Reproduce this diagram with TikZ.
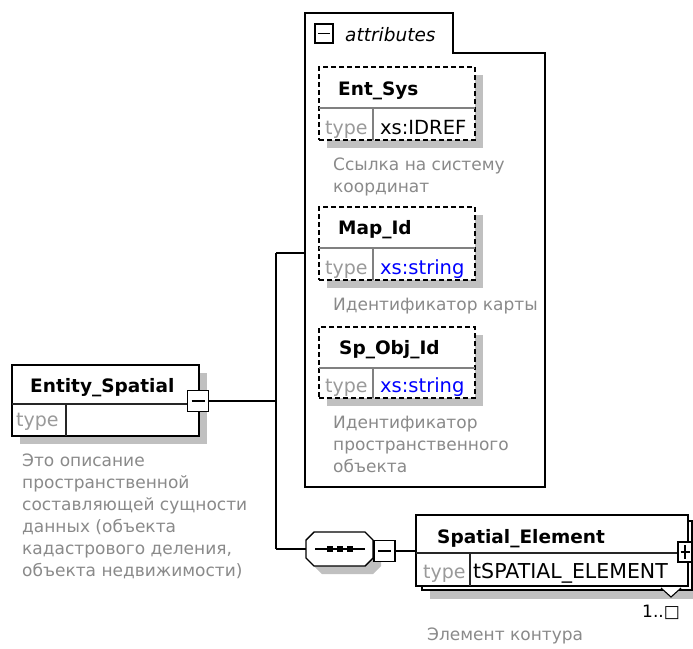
\documentclass[tikz,border=0pt]{standalone}
\usepackage{fontspec}
\setmainfont{DejaVu Sans}
\definecolor{shadowc}{HTML}{C0C0C0}
\definecolor{typec}{HTML}{9A9A9A}
\definecolor{descc}{HTML}{8A8A8A}
\definecolor{divc}{HTML}{808080}
\definecolor{bluev}{HTML}{0000FF}
\tikzset{
 ln/.style={line width=1.4pt, draw=black},
 shad/.style={fill=shadowc},
 elbox/.style={draw=black, line width=1.4pt, fill=white, rectangle, inner sep=0pt, outer sep=0pt, anchor=north west},
 dbox/.style={draw=black, line width=1.3pt, dash pattern=on 5pt off 3pt, fill=white, rectangle, inner sep=0pt, outer sep=0pt, anchor=north west},
 divl/.style={draw=divc, line width=1.2pt},
 divd/.style={draw=black!85, line width=1.2pt},
 nm/.style={font=\fontsize{18.5}{20}\selectfont\bfseries, anchor=base west, inner sep=0pt},
 tl/.style={font=\fontsize{19}{20}\selectfont, text=typec, anchor=base west, inner sep=0pt},
 tv/.style={font=\fontsize{19.5}{20}\selectfont, anchor=base west, inner sep=0pt},
 ds/.style={font=\fontsize{17}{18}\selectfont, text=descc, anchor=base west, inner sep=0pt},
 pm/.style={draw=black, line width=1.3pt, fill=white, rectangle, inner sep=0pt, outer sep=0pt},
}
\begin{document}
\begin{tikzpicture}[x=1pt,y=-1pt]
\useasboundingbox (0,0) rectangle (693,648);
\fill[white] (0,0) rectangle (693,648);

% ---------- attributes group ----------
\draw[ln, fill=white] (305,13) -- (453,13) -- (453,53) -- (545,53) -- (545,487) -- (305,487) -- cycle;
\node[pm, minimum width=18pt, minimum height=19pt] (am) at (324,33.5) {};
\draw[line width=1.2pt] ([xshift=3pt]am.west) -- ([xshift=-3pt]am.east);
\node[font=\fontsize{18.5}{20}\selectfont\itshape, anchor=base west, inner sep=0pt] (atxt) at (345,41) {attributes};

% Ent_Sys
\fill[shad] (327,75) rectangle (483,148);
\node[dbox, minimum width=156pt, minimum height=73pt] (es1) at (319,67) {};
\draw[divl] (es1.west |- 0,108) -- (es1.east |- 0,108);
\draw[divl] (373,108) -- (373,140);
\node[nm] (es1n) at (338,95) {Ent\_Sys};
\node[tl] (es1t) at (325,134) {type};
\node[tv] (es1v) at (380,134) {xs:IDREF};
\node[ds] (es1d1) at (333,170) {Ссылка на систему};
\node[ds] (es1d2) at (333,192) {координат};

% Map_Id
\fill[shad] (327,215) rectangle (483,288);
\node[dbox, minimum width=156pt, minimum height=73pt] (es2) at (319,207) {};
\draw[divl] (es2.west |- 0,248) -- (es2.east |- 0,248);
\draw[divl] (373,248) -- (373,280);
\node[nm] (es2n) at (338,234) {Map\_Id};
\node[tl] (es2t) at (325,274) {type};
\node[tv, text=bluev] (es2v) at (380,274) {xs:string};
\node[ds] (es2d1) at (333,310) {Идентификатор карты};

% Sp_Obj_Id
\fill[shad] (327,335) rectangle (483,406);
\node[dbox, minimum width=156pt, minimum height=71pt] (es3) at (319,327) {};
\draw[divl] (es3.west |- 0,368) -- (es3.east |- 0,368);
\draw[divl] (373,368) -- (373,398);
\node[nm] (es3n) at (339,354) {Sp\_Obj\_Id};
\node[tl] (es3t) at (325,392) {type};
\node[tv, text=bluev] (es3v) at (380,392) {xs:string};
\node[ds] (es3d1) at (333,428) {Идентификатор};
\node[ds] (es3d2) at (333,450) {пространственного};
\node[ds] (es3d3) at (333,472) {объекта};

% ---------- Entity_Spatial ----------
\fill[shad] (20,373) rectangle (207,444);
\node[elbox, minimum width=187pt, minimum height=71pt] (ent) at (12,365) {};
\draw[divd] (ent.west |- 0,404) -- (ent.east |- 0,404);
\draw[divd] (66,404) -- (66,436);
\node[nm] (entn) at (30,392) {Entity\_Spatial};
\node[tl] (entt) at (16,426) {type};
\node[pm, minimum width=21pt, minimum height=21pt] (entm) at (198,401) {};
\draw[line width=1.2pt] ([xshift=4pt]entm.west) -- ([xshift=-4pt]entm.east);
\node[ds] (entd1) at (22,466) {Это описание};
\node[ds] (entd2) at (22,488) {пространственной};
\node[ds] (entd3) at (22,510) {составляющей сущности};
\node[ds] (entd4) at (22,532) {данных (объекта};
\node[ds] (entd5) at (22,554) {кадастрового деления,};
\node[ds] (entd6) at (22,576) {объекта недвижимости)};

% ---------- sequence compositor ----------
\fill[shad] (322,540) -- (373,540) -- (381,548) -- (381,566) -- (373,574) -- (322,574) -- (314,566) -- (314,548) -- cycle;
\draw[ln, fill=white] (314,532) -- (365,532) -- (373,540) -- (373,558) -- (365,566) -- (314,566) -- (306,558) -- (306,540) -- cycle;
\node[inner sep=0pt, outer sep=0pt, minimum width=67pt, minimum height=34pt] (seq) at (339.5,549) {};
\draw[line width=1.2pt] (315,549) -- (365,549);
\fill (327,546) rectangle (333,552);
\fill (337,546) rectangle (343,552);
\fill (347,546) rectangle (353,552);
\node[pm, minimum width=21pt, minimum height=21pt] (seqm) at (384.5,551) {};
\draw[line width=1.2pt] ([xshift=4pt]seqm.west) -- ([xshift=-4pt]seqm.east);

% ---------- Spatial_Element ----------
\fill[shad] (430,529) rectangle (700,599);
\draw[ln, fill=white] (422,521) rectangle (692,590);
\node[elbox, minimum width=272pt, minimum height=71pt] (se) at (416,515) {};
\draw[divd] (se.west |- 0,553) -- (se.east |- 0,553);
\draw[divd] (470,553) -- (470,586);
\node[nm] (sen) at (437,543) {Spatial\_Element};
\node[tl] (set) at (423,578) {type};
\node[tv, font=\fontsize{20.5}{21}\selectfont] (sev) at (473,578) {tSPATIAL\_ELEMENT};
\node[pm, minimum width=14pt, minimum height=20pt] (sep) at (685,552) {};
\draw[line width=1.2pt] ([xshift=2.5pt]sep.west) -- ([xshift=-2.5pt]sep.east);
\draw[line width=1.2pt] ([yshift=-3pt]sep.north) -- ([yshift=3pt]sep.south);
\draw[line width=1.1pt, fill=white] (661,588) -- (671,597) -- (681,588);
\node[font=\fontsize{17}{18}\selectfont, anchor=base west, inner sep=0pt] (mult) at (642,617) {1..□};
\node[ds] (sed1) at (427,640) {Элемент контура};

% ---------- connectors ----------
\coordinate (j1) at (276,401);
\coordinate (jtop) at (276,253);
\coordinate (jbot) at (276,549);
\coordinate (attrL) at (305,253);
\draw[ln] (entm.east) -- (j1);
\draw[ln] (jtop) -- (jbot);
\draw[ln] (jtop) -- (attrL);
\draw[ln] (jbot) -- (seq.west);
\draw[ln] (seqm.east) -- (seqm.east -| se.west);
\end{tikzpicture}
\end{document}
